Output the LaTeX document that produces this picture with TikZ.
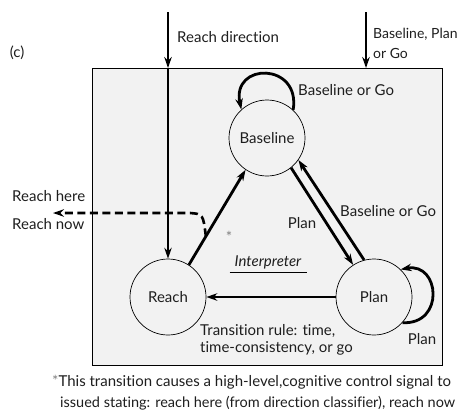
\documentclass[tikz,border=0pt]{standalone}
\usepackage{fontspec}
\setmainfont[Ligatures=NoCommon]{Lato}
\usetikzlibrary{arrows.meta}
\definecolor{panelgray}{HTML}{F2F2F2}
\definecolor{ink}{HTML}{1E1E1E}

\begin{document}
\begin{tikzpicture}[x=1pt, y=-1pt,
        state/.style={circle, draw, line width=0.7pt, minimum size=76pt, inner sep=0pt, font=\fontsize{15}{17}\selectfont, text=ink},
        panel/.style={draw, line width=0.9pt, fill=panelgray, minimum width=350pt, minimum height=297pt, outer sep=0pt},
        arr/.style={-{Stealth[length=11pt, width=7.5pt]}, line width=2.8pt},
        thinarr/.style={-{Stealth[length=11pt, width=7.5pt]}, line width=1.5pt},
        dasharr/.style={-{Stealth[length=11pt, width=7.5pt]}, line width=2.6pt, dash pattern=on 8pt off 4.5pt},
        lbl/.style={font=\fontsize{15}{20}\selectfont, text=ink, inner sep=0pt, align=left}
    ]
    \useasboundingbox (0,0) rectangle (462,413);

    % ---- PANEL ----
    \node[panel] (panel) at (267,216.5) {};
    \node[lbl] (tag) at (17,53) {(c)};

    % ---- STATES ----
    \node[state] (baseline) at (267,138) {Baseline};
    \node[state] (reach) at (168,297) {Reach};
    \node[state] (plan) at (374,297) {Plan};

    % ---- INPUTS ----
    \coordinate (rdsrc) at (168,12);
    \coordinate (bpsrc) at (366,12);
    \draw[arr] (rdsrc) -- (rdsrc |- panel.north);
    \draw[thinarr] (rdsrc |- panel.north) -- (reach);
    \node[lbl, anchor=west] (rdlbl) at (177,37) {Reach direction};
    \draw[arr] (bpsrc) -- (bpsrc |- panel.north);
    \node[lbl, font=\fontsize{14}{20}\selectfont, anchor=west] (bplbl) at (373,43) {Baseline, Plan\\or Go};

    % ---- TRANSITIONS ----
    \draw[arr] (baseline.47) .. controls (301,62) and (231,62) .. (baseline.132);
    \node[lbl, anchor=west] (bloop) at (298,90) {Baseline or Go};
    \draw[arr] (reach.57) -- (baseline.236);
    \draw[arr] (baseline.-51) -- (plan.123);
    \draw[arr] (plan.105) -- (baseline.-35);
    \node[lbl] (planlbl) at (302,223) {Plan};
    \node[lbl, anchor=west] (bglbl) at (340,211) {Baseline or Go};
    \draw[arr] (plan) -- (reach);
    \draw[arr] (plan.-42) .. controls (445,325) and (440,262) .. (plan.46);
    \node[lbl] (ploop) at (422,339) {Plan};

    % ---- SIGNAL OUT ----
    \path (reach.57) -- coordinate[pos=0.3] (dstart) (baseline.236);
    \coordinate (signal) at (53,213);
    \draw[dasharr] (dstart) .. controls (203,214) .. (190,213) -- (signal);
    \node[lbl, anchor=west] (here) at (12,196) {Reach here};
    \node[lbl, anchor=west] (now) at (12,224) {Reach now};
    \node[lbl, text=gray] (star) at (229,237) {*};

    % ---- INTERPRETER ----
    \node[lbl, font=\fontsize{15}{20}\selectfont\itshape, inner xsep=5pt, inner ysep=3pt] (interp) at (268,262) {Interpreter};
    \draw[line width=0.7pt] (interp.south west) -- (interp.south east);
    \node[lbl, font=\fontsize{15}{17}\selectfont, anchor=west] (rule) at (200,340) {Transition rule: time,\\time-consistency, or go};

    % ---- FOOTNOTE ----
    \node[lbl, anchor=west] (note1) at (52,382) {{\color{gray}*}This transition causes a high-level,cognitive control signal to};
    \node[lbl, font=\fontsize{14.5}{20}\selectfont, anchor=west] (note2) at (60,403) {issued stating: reach here (from direction classifier), reach now};
\end{tikzpicture}
\end{document}
